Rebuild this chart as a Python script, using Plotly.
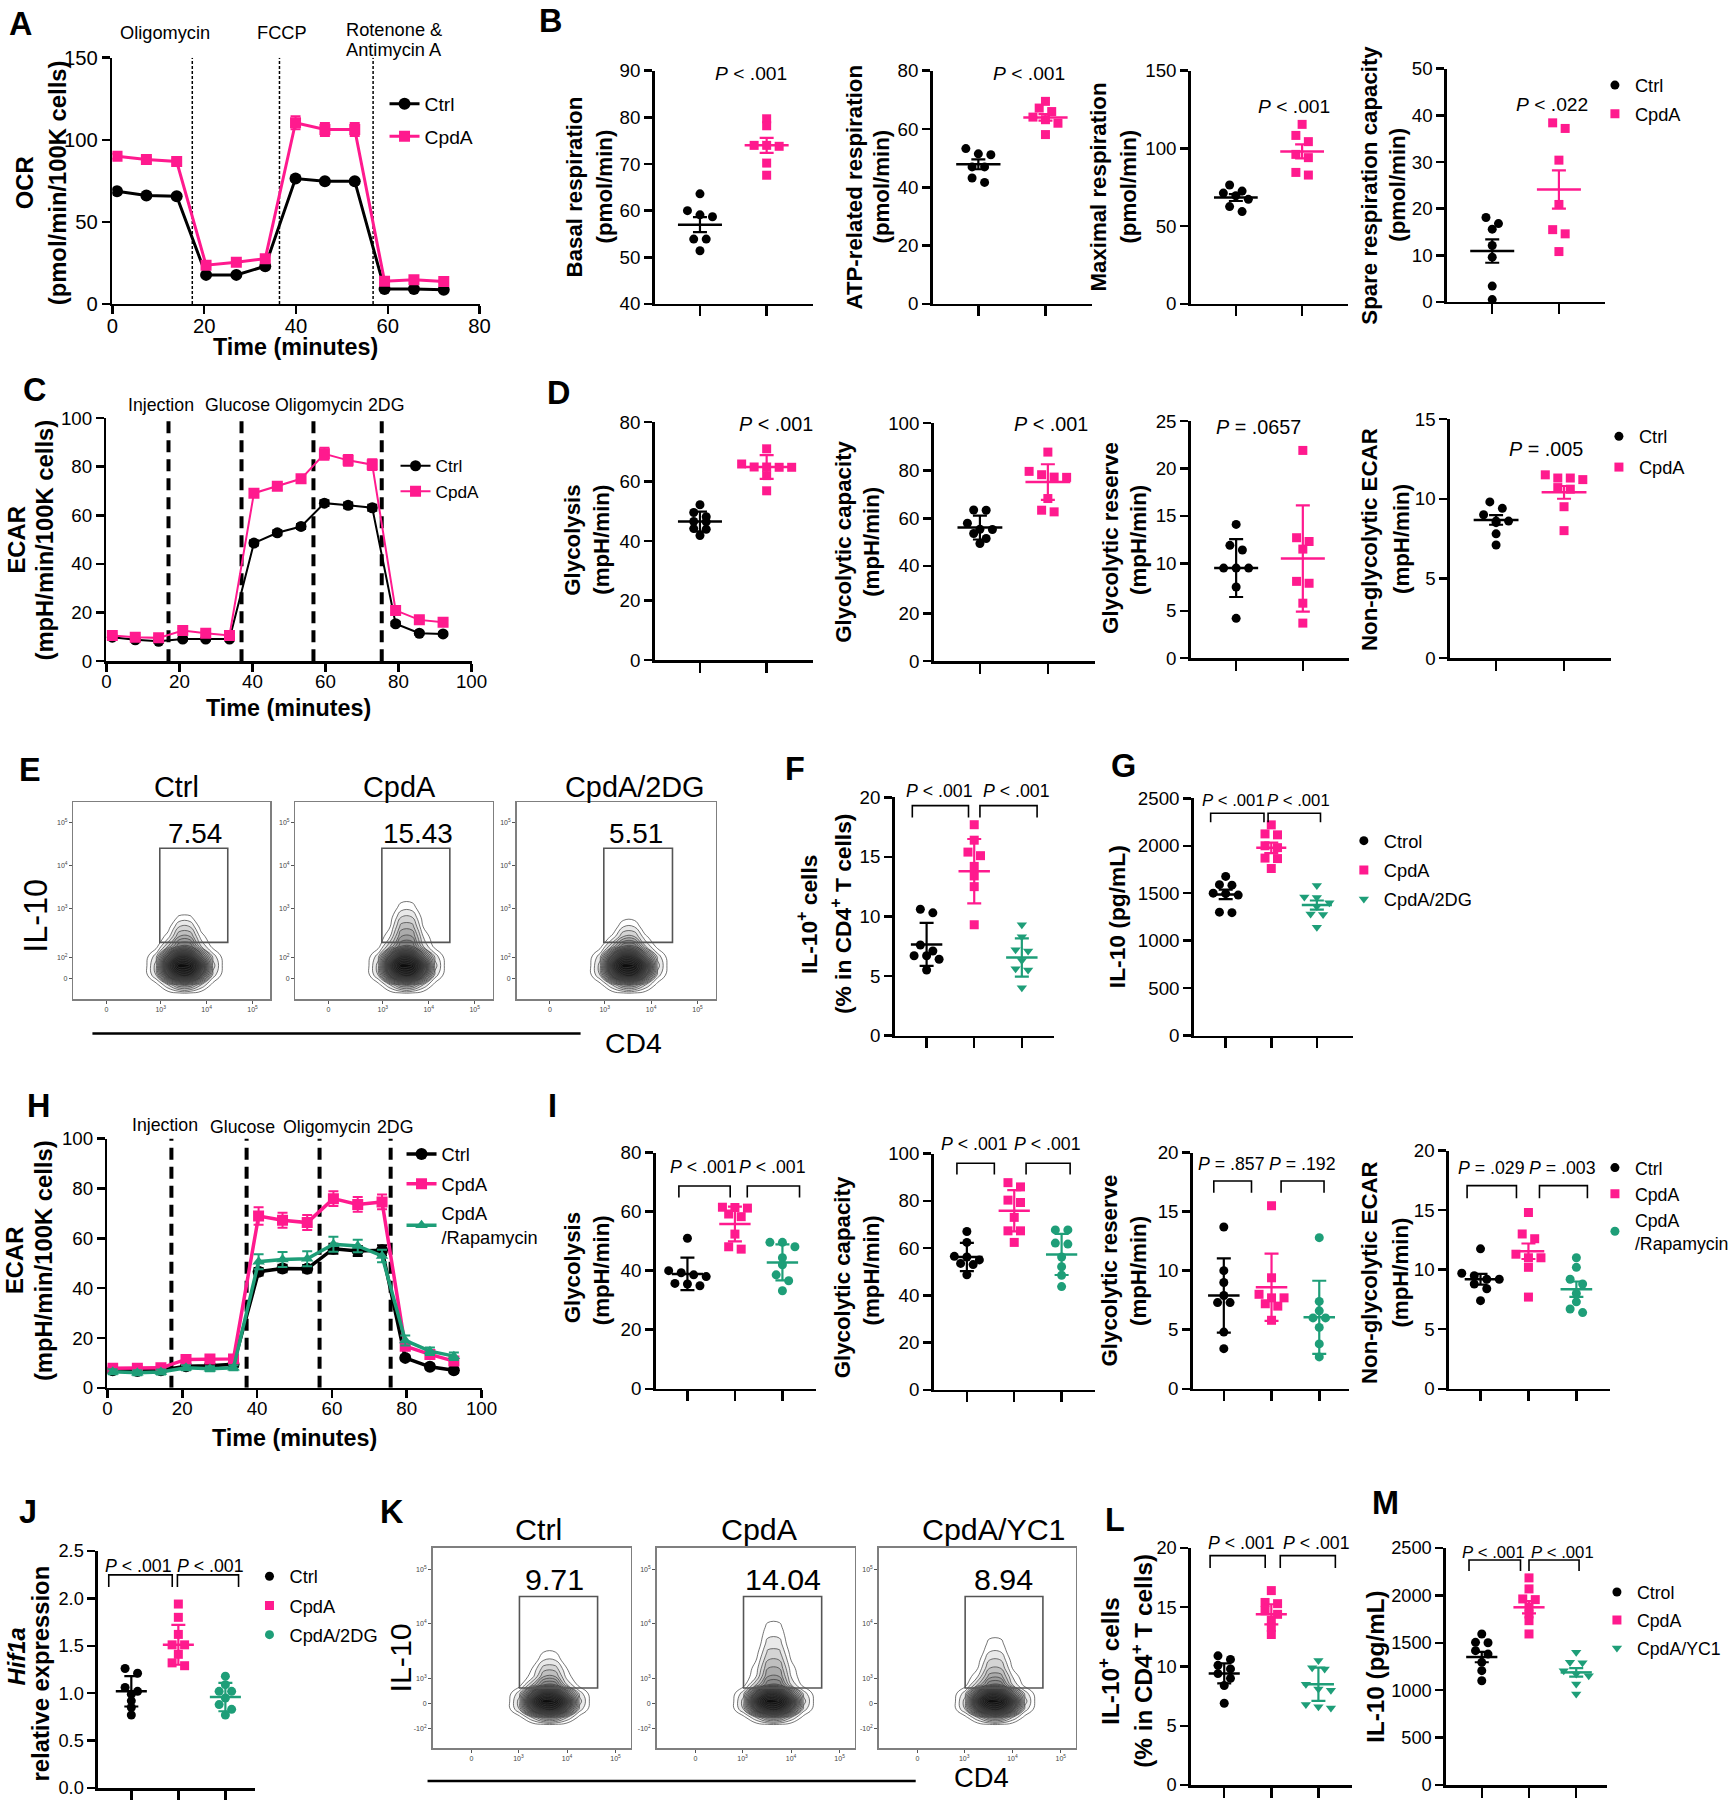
import plotly.graph_objects as go

W, H = 1736, 1800
FONT = "Liberation Sans, Arial, Helvetica, sans-serif"
PINK = "#FF1A8E"
GREEN = "#1E9E78"
BLACK = "#000000"

# ---------------- data: time courses ----------------
A_TIME = [1.0, 7.4, 14.0, 20.4, 27.0, 33.3, 39.9, 46.3, 52.8, 59.3, 65.7, 72.2]
A_CTRL = [68.7, 66.0, 65.6, 17.7, 17.7, 23.0, 76.4, 74.8, 74.8, 9.1, 9.1, 8.7]
A_CTRL_ERR = [1.0, 1.0, 1.0, 1.0, 1.0, 1.0, 1.2, 1.2, 1.2, 0.8, 0.8, 0.8]
A_CPDA = [90.0, 88.0, 86.8, 23.6, 25.4, 27.6, 110.4, 106.3, 106.3, 13.8, 14.8, 13.6]
A_CPDA_ERR = [1.5, 1.5, 1.5, 1.2, 1.2, 1.2, 4.0, 4.0, 4.0, 1.2, 1.2, 1.2]
A_INJ = [17.4, 36.4, 56.8]

C_TIME = [1.6, 7.9, 14.3, 20.9, 27.2, 33.7, 40.4, 46.8, 53.3, 59.7, 66.2, 72.8, 79.2, 85.7, 92.2]
C_CTRL = [9.9, 8.8, 8.2, 9.1, 9.1, 9.1, 48.6, 52.8, 55.4, 65.0, 64.1, 63.1, 15.4, 11.5, 11.2]
C_CTRL_ERR = [0.6, 0.6, 0.6, 0.6, 0.6, 0.6, 1.0, 1.0, 1.0, 1.2, 1.2, 1.2, 0.8, 0.6, 0.6]
C_CPDA = [10.6, 9.9, 9.6, 12.6, 11.5, 10.6, 69.1, 71.9, 75.0, 85.3, 82.6, 80.8, 20.9, 17.0, 16.0]
C_CPDA_ERR = [0.8, 0.8, 0.8, 0.8, 0.8, 0.8, 1.5, 1.5, 1.5, 2.5, 2.2, 2.2, 1.2, 1.0, 1.0]
C_INJ = [17.0, 37.0, 56.7, 75.4]

H_TIME = [1.4, 8.0, 14.3, 21.0, 27.4, 33.7, 40.4, 46.8, 53.4, 60.4, 66.9, 73.4, 79.6, 86.2, 92.6]
H_CTRL = [7.0, 6.7, 7.0, 8.6, 8.8, 9.4, 46.6, 47.9, 47.8, 55.8, 54.9, 55.2, 12.0, 8.4, 7.0]
H_CTRL_ERR = [1.0, 1.0, 1.0, 1.0, 1.0, 1.0, 1.5, 1.5, 1.5, 2.0, 2.0, 2.0, 1.0, 1.0, 1.0]
H_CPDA = [7.8, 7.8, 8.0, 11.4, 11.6, 11.6, 68.9, 67.2, 66.3, 75.9, 73.6, 74.6, 16.7, 13.4, 10.7]
H_CPDA_ERR = [1.0, 1.0, 1.0, 1.5, 1.5, 1.5, 3.5, 3.0, 3.0, 3.0, 3.0, 3.0, 1.5, 1.5, 1.5]
H_RAPA = [6.4, 6.0, 6.3, 8.0, 7.6, 8.0, 50.6, 51.5, 51.8, 57.6, 56.9, 52.9, 19.0, 14.7, 12.7]
H_RAPA_ERR = [1.0, 1.0, 1.0, 1.0, 1.0, 1.0, 3.0, 3.0, 3.0, 3.0, 2.5, 2.5, 2.0, 1.5, 1.5]
H_INJ = [17.1, 37.2, 56.7, 75.7]

# ---------------- data: dot plots ----------------
B1_CTRL = [63.6, 60.0, 59.1, 58.7, 53.9, 53.9, 51.4]
B1_CPDA = [79.7, 78.2, 74.0, 74.0, 73.8, 70.2, 67.6]
B1_MEAN = [57.0, 74.0]
B1_ERR = [1.6, 1.6]
B2_CTRL = [53.3, 51.5, 51.2, 47.0, 47.0, 43.2, 41.7]
B2_CPDA = [69.5, 67.2, 66.0, 64.1, 63.2, 62.0, 58.1]
B2_MEAN = [47.9, 64.0]
B2_ERR = [1.7, 1.1]
B3_CTRL = [76.5, 72.6, 71.3, 69.6, 67.3, 62.6, 59.4]
B3_CPDA = [115.5, 108.4, 104.4, 96.2, 94.1, 84.6, 82.9]
B3_MEAN = [68.4, 98.1]
B3_ERR = [2.2, 4.5]
B4_CTRL = [18.1, 16.8, 15.6, 12.1, 9.6, 3.4, 0.5]
B4_CPDA = [38.4, 37.2, 30.4, 20.9, 15.5, 14.6, 10.8]
B4_MEAN = [10.9, 24.1]
B4_ERR = [2.5, 4.1]

D1_CTRL = [52.2, 49.6, 48.2, 46.6, 46.5, 44.2, 44.0, 41.9]
D1_CPDA = [71.0, 65.9, 64.9, 64.9, 64.8, 64.8, 62.0, 56.9]
D1_MEAN = [46.6, 64.9]
D1_ERR = [3.3, 4.0]
D2_CTRL = [63.5, 63.4, 57.9, 55.4, 55.3, 53.6, 51.5, 49.4]
D2_CPDA = [87.8, 79.7, 78.3, 77.3, 77.2, 68.3, 63.4, 62.7]
D2_MEAN = [56.1, 75.2]
D2_ERR = [5.0, 7.5]
D3_CTRL = [14.1, 11.9, 11.4, 9.5, 9.5, 9.5, 7.5, 4.2]
D3_CPDA = [21.9, 12.7, 12.3, 11.5, 8.1, 7.9, 5.8, 3.7]
D3_MEAN = [9.5, 10.5]
D3_ERR = [3.05, 5.6]
D4_CTRL = [9.8, 9.4, 9.0, 8.6, 8.6, 8.5, 7.8, 7.1]
D4_CPDA = [11.5, 11.3, 11.3, 11.2, 10.7, 10.6, 9.5, 8.0]
D4_MEAN = [8.67, 10.4]
D4_ERR = [0.3, 0.4]

F_CTRL = [10.6, 10.3, 7.6, 7.1, 6.7, 6.7, 6.4, 5.5]
F_CPDA = [17.7, 16.4, 15.4, 15.1, 14.2, 13.4, 12.5, 9.3]
F_2DG = [9.3, 8.3, 7.2, 7.1, 6.3, 5.6, 5.5, 4.0]
F_MEAN = [7.65, 13.8, 6.55]
F_ERR = [1.8, 2.7, 1.6]

G_CTRL = [1677, 1590, 1585, 1500, 1495, 1480, 1300, 1295]
G_CPDA = [2220, 2125, 2115, 2000, 1980, 1870, 1865, 1760]
G_2DG = [1580, 1460, 1455, 1400, 1360, 1280, 1275, 1140]
G_MEAN = [1487, 1978, 1375]
G_ERR = [50, 55, 48]

I1_CTRL = [51.0, 40.0, 39.3, 38.6, 38.0, 35.7, 35.5, 34.9]
I1_CPDA = [61.5, 61.4, 61.2, 59.2, 58.3, 52.4, 48.1, 47.3]
I1_RAPA = [49.6, 49.6, 48.1, 44.4, 42.0, 38.6, 36.6, 33.2]
I1_MEAN = [38.9, 55.8, 42.8]
I1_ERR = [5.5, 5.9, 6.1]
I2_CTRL = [67.0, 62.4, 56.5, 56.2, 55.0, 53.5, 53.0, 48.7]
I2_CPDA = [87.7, 85.9, 80.3, 79.3, 73.0, 67.3, 67.3, 62.4]
I2_RAPA = [67.7, 67.7, 62.1, 61.7, 56.2, 52.1, 48.5, 43.7]
I2_MEAN = [56.2, 75.8, 57.3]
I2_ERR = [6.0, 8.7, 8.7]
I3_CTRL = [13.7, 10.0, 9.0, 7.9, 7.3, 7.3, 4.8, 3.4]
I3_CPDA = [15.5, 9.4, 8.0, 7.7, 7.7, 7.2, 7.0, 5.8]
I3_RAPA = [12.8, 7.4, 6.6, 6.0, 6.0, 5.2, 3.8, 2.7]
I3_MEAN = [7.9, 8.6, 6.05]
I3_ERR = [3.15, 2.85, 3.1]
I4_CTRL = [11.75, 9.7, 9.5, 9.2, 9.2, 8.8, 8.4, 7.4]
I4_CPDA = [14.8, 13.0, 12.6, 11.3, 11.0, 11.0, 10.2, 7.7]
I4_RAPA = [11.0, 10.2, 9.2, 8.8, 8.0, 7.3, 6.7, 6.4]
I4_MEAN = [9.2, 11.55, 8.36]
I4_ERR = [0.45, 0.65, 0.65]

J_CTRL = [1.26, 1.21, 1.06, 1.02, 0.99, 0.92, 0.85, 0.77]
J_CPDA = [1.94, 1.80, 1.62, 1.51, 1.51, 1.41, 1.32, 1.29]
J_2DG = [1.18, 1.09, 1.02, 1.02, 0.95, 0.88, 0.83, 0.77]
J_MEAN = [1.02, 1.51, 0.96]
J_ERR = [0.16, 0.21, 0.15]

L_CTRL = [10.9, 10.6, 10.1, 9.8, 9.4, 9.0, 8.4, 6.9]
L_CPDA = [16.4, 15.4, 15.3, 14.7, 14.4, 13.9, 13.3, 12.7]
L_YC1 = [10.5, 9.9, 9.8, 8.5, 8.1, 8.0, 6.8, 6.6, 6.5]
L_MEAN = [9.42, 14.4, 8.5]
L_ERR = [0.85, 0.85, 1.4]

M_CTRL = [1593, 1505, 1500, 1417, 1381, 1294, 1206, 1100]
M_CPDA = [2184, 2068, 1962, 1955, 1874, 1804, 1733, 1593]
M_YC1 = [1399, 1294, 1290, 1206, 1170, 1153, 1065, 959]
M_MEAN = [1350, 1874, 1188]
M_ERR = [55, 65, 45]

# ---------------- data: flow cytometry ----------------
E_GROUPS = ["Ctrl", "CpdA", "CpdA/2DG"]
E_PCT = ["7.54", "15.43", "5.51"]
K_GROUPS = ["Ctrl", "CpdA", "CpdA/YC1"]
K_PCT = ["9.71", "14.04", "8.94"]

# estimated contour-level map of the main population (rows: low -> high IL-10)
FLOW_DU = [-0.9, -0.62, -0.36, -0.12, 0.12, 0.36, 0.62, 0.9]
FLOW_DV = [-0.9, -0.6, -0.3, 0.0, 0.3, 0.6, 0.9, 1.2, 1.5, 1.8, 2.1, 2.4, 2.7, 3.0, 3.4]
FLOW_CORE = [
    [0, 0, 0, 0, 0, 0, 0, 0],
    [0, 0.5, 3, 6, 6, 3, 0.5, 0],
    [0, 3, 12, 17, 17, 11, 2.5, 0],
    [0, 3.5, 15, 22, 21, 14, 3.5, 0],
    [0, 2.5, 11, 16, 15, 9, 2.5, 0],
    [0, 0.5, 4, 8, 8, 3, 0.5, 0],
]
E_TAILS = [
    [[0, 0, 1.5, 5, 5, 1.5, 0, 0], [0, 0, 0.5, 3, 3, 0.5, 0, 0], [0, 0, 0, 1.2, 1.2, 0, 0, 0]],
    [[0, 0, 2, 6, 6, 2, 0, 0], [0, 0, 1, 4.5, 4.5, 1, 0, 0], [0, 0, 0.5, 3, 3, 0.5, 0, 0],
     [0, 0, 0, 1.5, 1.5, 0, 0, 0], [0, 0, 0, 0.5, 0.5, 0, 0, 0]],
    [[0, 0, 1.2, 4, 4, 1.2, 0, 0], [0, 0, 0, 2, 2, 0, 0, 0], [0, 0, 0, 0.5, 0.5, 0, 0, 0]],
]
K_TAILS = [
    [[0, 0, 1.5, 5, 5, 1.5, 0, 0], [0, 0, 1, 3.5, 3.5, 1, 0, 0], [0, 0, 0, 2, 2, 0, 0, 0],
     [0, 0, 0, 1, 1, 0, 0, 0]],
    [[0, 0, 2, 6, 6, 2, 0, 0], [0, 0, 1.5, 5, 5, 1.5, 0, 0], [0, 0, 1, 4, 4, 1, 0, 0],
     [0, 0, 0.5, 3.2, 3.2, 0.5, 0, 0], [0, 0, 0, 2.5, 2.5, 0, 0, 0], [0, 0, 0, 1.8, 1.8, 0, 0, 0],
     [0, 0, 0, 1.3, 1.3, 0, 0, 0], [0, 0, 0, 0.8, 0.8, 0, 0, 0]],
    [[0, 0, 2, 5.5, 5.5, 2, 0, 0], [0, 0, 1, 4, 4, 1, 0, 0], [0, 0, 0.5, 3, 3, 0.5, 0, 0],
     [0, 0, 0, 2, 2, 0, 0, 0], [0, 0, 0, 1.3, 1.3, 0, 0, 0], [0, 0, 0, 0.8, 0.8, 0, 0, 0]],
]

# ================= building =================
# page placement correction (observed offset/scale of the photographed page)
SC = 0.987
OX, OY = 5.6, 11.3
FK = 1 / SC


def X(px):
    return (px - OX) / SC


def Y(py):
    return (py - OY) / SC


fig = go.Figure()
LAYOUT = {}
ANN = []
SHAPES = []
_n = [0]


def axes(x0, x1, yt, yb, xr, yr, xkw=None, ykw=None, fs=18.5):
    _n[0] += 1
    k = _n[0]
    s = "" if k == 1 else str(k)

    def base():
        return dict(showline=True, linecolor=BLACK, linewidth=2.5, ticks="outside", ticklen=9,
                    tickwidth=2.5, tickcolor=BLACK, showgrid=False, zeroline=False, fixedrange=True,
                    tickfont=dict(family=FONT, size=fs * FK, color=BLACK))
    xa = base()
    xa.update(domain=[X(x0) / W, min(X(x1) / W, 1)], range=xr, anchor="y" + s)
    ya = base()
    ya.update(domain=[max(1 - Y(yb) / H, 0), 1 - Y(yt) / H], range=yr, anchor="x" + s)
    if xkw:
        xa.update(xkw)
    if ykw:
        ya.update(ykw)
    LAYOUT["xaxis" + s] = xa
    LAYOUT["yaxis" + s] = ya
    return "x" + s, "y" + s


def txt(x, y, s, size, angle=0, xanchor="center", color=BLACK):
    ANN.append(dict(x=X(x) / W, y=1 - Y(y) / H, xref="paper", yref="paper", text=s, showarrow=False,
                    textangle=angle, xanchor=xanchor, yanchor="middle",
                    font=dict(family=FONT, size=size * FK, color=color)))


def ptxt(x, y, s, size=17.5):
    txt(x, y, "<i>P</i> " + s, size)


def legend(name, x, ytop, gap, size=18):
    LAYOUT[name] = dict(x=X(x) / W, y=1 - Y(ytop) / H, xanchor="left", yanchor="top",
                        bgcolor="rgba(0,0,0,0)", borderwidth=0,
                        font=dict(family=FONT, size=size * FK, color=BLACK),
                        traceorder="grouped", tracegroupgap=gap, valign="middle")


def hline(x0, x1, y):
    SHAPES.append(dict(type="line", xref="paper", yref="paper", x0=X(x0) / W, x1=X(x1) / W,
                       y0=1 - Y(y) / H, y1=1 - Y(y) / H, line=dict(color=BLACK, width=2.5)))


def swarm(vals, c, ppu, upx, d_px=12.5, thr_px=6.5):
    order = sorted(range(len(vals)), key=lambda i: -vals[i])
    clusters = []
    for i in order:
        if clusters and (vals[clusters[-1][0]] - vals[i]) * ppu < thr_px:
            clusters[-1].append(i)
        else:
            clusters.append([i])
    xs = [float(c)] * len(vals)
    for cl in clusters:
        n = len(cl)
        for k, i in enumerate(cl):
            xs[i] = c + (k - (n - 1) / 2) * d_px * upx
    return xs


def timecourse(box, xr, yr, xd, yd, times, series, inj, inj_line, leg, fs=18.5):
    xa, ya = axes(*box, xr, yr, xkw=dict(dtick=xd, tick0=0, ticklen=8, ticklabelstandoff=-6),
                  ykw=dict(dtick=yd, tick0=0, ticklen=8), fs=fs)
    for x in inj:
        SHAPES.append(dict(type="line", xref=xa, yref=ya, x0=x, x1=x, y0=yr[0], y1=yr[1],
                           line=inj_line, layer="below"))
    for i, (name, vals, errs, color, sym, ms, lw) in enumerate(series):
        fig.add_trace(go.Scatter(
            x=times, y=vals, mode="lines+markers", name=name, xaxis=xa, yaxis=ya,
            line=dict(color=color, width=lw), marker=dict(symbol=sym, size=ms, color=color),
            error_y=dict(type="data", array=errs, color=color, thickness=2, width=5),
            legend=leg, legendgroup=leg + str(i), showlegend=True, hoverinfo="skip"))
    return xa, ya


def dotpanel(box, xr, yr, yd, groups, means, errs, colors, symbols, leg=None, names=None,
             ms=9, ykw_extra=None, brackets=None, btop=None, bbot=None, fs=18.5):
    x0, x1, yt, yb = box
    ncat = len(groups)
    ykw = dict(dtick=yd, tick0=yr[0], ticklen=8)
    if ykw_extra:
        ykw.update(ykw_extra)
    xa, ya = axes(x0, x1, yt, yb, xr, yr,
                  xkw=dict(tickvals=list(range(ncat)), showticklabels=False, ticklen=10), ykw=ykw, fs=fs)
    ppu = (yb - yt) / (yr[1] - yr[0])
    upx = (xr[1] - xr[0]) / (x1 - x0)
    for c in range(ncat):
        vals = groups[c]
        xs = swarm(vals, c, ppu, upx)
        fig.add_trace(go.Scatter(
            x=xs, y=vals, mode="markers", marker=dict(symbol=symbols[c], size=ms, color=colors[c]),
            xaxis=xa, yaxis=ya, name=names[c] if names else "", showlegend=leg is not None,
            legend=leg or "legend", legendgroup=(leg or "none") + str(c), hoverinfo="skip",
            cliponaxis=False))
        fig.add_trace(go.Scatter(
            x=[c - 0.33, c + 0.33], y=[means[c]] * 2, mode="lines",
            line=dict(color=colors[c], width=2.5), xaxis=xa, yaxis=ya, showlegend=False,
            hoverinfo="skip"))
        fig.add_trace(go.Scatter(
            x=[c], y=[means[c]], mode="markers", marker=dict(size=1, color="rgba(0,0,0,0)"),
            error_y=dict(type="data", array=[errs[c]], color=colors[c], thickness=2.2, width=7),
            xaxis=xa, yaxis=ya, showlegend=False, hoverinfo="skip"))
    if brackets:
        for (a, b) in brackets:
            fig.add_trace(go.Scatter(
                x=[a, a, b, b], y=[bbot, btop, btop, bbot], mode="lines",
                line=dict(color=BLACK, width=1.6), xaxis=xa, yaxis=ya, showlegend=False,
                hoverinfo="skip"))
    return xa, ya


def flowpanel(box, ur, vr, u0, v0, vs, tail, gate, xtv, xtt, ytv, ytt):
    tk = dict(ticklen=3, tickwidth=1, linecolor="#7f7f7f", linewidth=1.5, mirror=True,
              tickcolor="#555555", tickfont=dict(family=FONT, size=7, color="#444444"))
    xkw = dict(tk, tickvals=xtv, ticktext=xtt)
    ykw = dict(tk, tickvals=ytv, ticktext=ytt)
    xa, ya = axes(*box, ur, vr, xkw=xkw, ykw=ykw)
    z = [list(r) for r in FLOW_CORE] + [list(r) for r in tail]
    while len(z) < len(FLOW_DV):
        z.append([0] * len(FLOW_DU))
    U = [u0 + du for du in FLOW_DU]
    V = [v0 + dv * vs for dv in FLOW_DV]
    fig.add_trace(go.Contour(
        x=U, y=V, z=z, xaxis=xa, yaxis=ya, showscale=False,
        contours=dict(start=1, end=22, size=1.0, coloring="fill"),
        line=dict(width=0.7, smoothing=1.3, color="#3a3a3a"), zmin=0, zmax=22,
        colorscale=[[0, "rgba(255,255,255,0)"], [0.045, "rgba(255,255,255,0)"],
                    [0.05, "#f2f2f2"], [0.2, "#b0b0b0"], [0.45, "#5a5a5a"],
                    [0.75, "#262626"], [1, "#0a0a0a"]],
        hoverinfo="skip", showlegend=False))
    SHAPES.append(dict(type="rect", xref=xa, yref=ya, x0=gate[0], x1=gate[1], y0=gate[2],
                       y1=gate[3], line=dict(color="#555555", width=1.6)))
    return xa, ya


TWO = [-0.68, 1.69]
SUP = "<sup>%s</sup>"
YT1 = 23.5   # big y-titles (time courses)
YT2 = 22     # dot-plot y-titles

# ---------------- Panel A ----------------
timecourse((112, 479, 58, 304), [0, 80], [0, 150], 20, 50, A_TIME,
           [("Ctrl", A_CTRL, A_CTRL_ERR, BLACK, "circle", 12, 3),
            ("CpdA", A_CPDA, A_CPDA_ERR, PINK, "square", 11, 3)],
           A_INJ, dict(color=BLACK, width=1.5, dash="3px,2px"), "legend", fs=20)
legend("legend", 384, 85, 4.5, size=19)
txt(164.5, 33, "Oligomycin", 18)
txt(282, 33, "FCCP", 18)
txt(393, 30, "Rotenone &", 18)
txt(393, 50, "Antimycin A", 18)
txt(295, 347, "<b>Time (minutes)</b>", 23)
txt(24, 183, "<b>OCR</b>", YT1, angle=-90)
txt(57, 183, "<b>(pmol/min/100K cells)</b>", YT1, angle=-90)

# ---------------- Panel B ----------------
dotpanel((654, 812, 71, 304), TWO, [40, 90], 10, [B1_CTRL, B1_CPDA], B1_MEAN, B1_ERR,
         [BLACK, PINK], ["circle", "square"])
dotpanel((932, 1091, 71, 304), TWO, [0, 80], 20, [B2_CTRL, B2_CPDA], B2_MEAN, B2_ERR,
         [BLACK, PINK], ["circle", "square"])
dotpanel((1190, 1347, 71, 304), TWO, [0, 150], 50, [B3_CTRL, B3_CPDA], B3_MEAN, B3_ERR,
         [BLACK, PINK], ["circle", "square"])
dotpanel((1446, 1604, 69, 302), TWO, [0, 50], 10, [B4_CTRL, B4_CPDA], B4_MEAN, B4_ERR,
         [BLACK, PINK], ["circle", "square"], leg="legend2", names=["Ctrl", "CpdA"])
legend("legend2", 1594, 67, 2)
ptxt(750, 74, "< .001", 19)
ptxt(1028, 74, "< .001", 19)
ptxt(1293, 107, "< .001", 19)
ptxt(1551, 105, "< .022", 19)
txt(574, 187, "<b>Basal respiration</b>", YT2, angle=-90)
txt(604, 187, "<b>(pmol/min)</b>", YT2, angle=-90)
txt(854, 187, "<b>ATP-related respiration</b>", YT2, angle=-90)
txt(881, 187, "<b>(pmol/min)</b>", YT2, angle=-90)
txt(1098, 187, "<b>Maximal respiration</b>", YT2, angle=-90)
txt(1128, 187, "<b>(pmol/min)</b>", YT2, angle=-90)
txt(1369, 185, "<b>Spare respiration capacity</b>", YT2, angle=-90)
txt(1397, 185, "<b>(pmol/min)</b>", YT2, angle=-90)

# ---------------- Panel C ----------------
timecourse((106, 471, 418, 661), [0, 100], [0, 100], 20, 20, C_TIME,
           [("Ctrl", C_CTRL, C_CTRL_ERR, BLACK, "circle", 11, 2),
            ("CpdA", C_CPDA, C_CPDA_ERR, PINK, "square", 11, 2)],
           C_INJ, dict(color=BLACK, width=4, dash="12px,7px"), "legend3")
legend("legend3", 395, 448, 0, size=17)
txt(161, 405, "Injection", 17.5)
txt(237.5, 405, "Glucose", 17.5)
txt(318, 405, "Oligomycin", 17.5)
txt(385, 405, "2DG", 17.5)
txt(288, 708, "<b>Time (minutes)</b>", 23)
txt(16, 540, "<b>ECAR</b>", YT1, angle=-90)
txt(44, 540, "<b>(mpH/min/100K cells)</b>", YT1, angle=-90)

# ---------------- Panel D ----------------
dotpanel((654, 812, 422, 660), TWO, [0, 80], 20, [D1_CTRL, D1_CPDA], D1_MEAN, D1_ERR,
         [BLACK, PINK], ["circle", "square"])
dotpanel((933, 1094, 423, 661), TWO, [0, 100], 20, [D2_CTRL, D2_CPDA], D2_MEAN, D2_ERR,
         [BLACK, PINK], ["circle", "square"])
dotpanel((1190, 1348, 421, 658), TWO, [0, 25], 5, [D3_CTRL, D3_CPDA], D3_MEAN, D3_ERR,
         [BLACK, PINK], ["circle", "square"])
dotpanel((1449, 1610, 419, 658), TWO, [0, 15], 5, [D4_CTRL, D4_CPDA], D4_MEAN, D4_ERR,
         [BLACK, PINK], ["circle", "square"], leg="legend4", names=["Ctrl", "CpdA"])
legend("legend4", 1598, 418, 4)
ptxt(775, 424, "< .001", 19.5)
ptxt(1050, 424, "< .001", 19.5)
ptxt(1258, 427, "= .0657", 19.5)
ptxt(1545, 449, "= .005", 19.5)
txt(572, 540, "<b>Glycolysis</b>", YT2, angle=-90)
txt(601, 540, "<b>(mpH/min)</b>", YT2, angle=-90)
txt(842, 542, "<b>Glycolytic capacity</b>", YT2, angle=-90)
txt(870, 542, "<b>(mpH/min)</b>", YT2, angle=-90)
txt(1109, 538, "<b>Glycolytic reserve</b>", YT2, angle=-90)
txt(1137, 540, "<b>(mpH/min)</b>", YT2, angle=-90)
txt(1368, 539, "<b>Non-glycolytic ECAR</b>", YT2, angle=-90)
txt(1400, 539, "<b>(mpH/min)</b>", YT2, angle=-90)

# ---------------- Panel E (flow) ----------------
E_BOXES = [(73, 270), (295, 492), (516, 715)]
E_TITLE_X = [176, 398.5, 634]
E_PCT_X = [195, 417, 635]
for i in range(3):
    x0, x1 = E_BOXES[i]
    flowpanel((x0, x1, 802, 999), [1.10, 5.39], [0.88, 5.47], 3.52, 1.67, 0.75, E_TAILS[i],
              (2.98, 4.46, 2.21, 4.40), [1.82, 3, 4, 5], ["0", "10" + SUP % 3, "10" + SUP % 4, "10" + SUP % 5],
              [1.37, 1.86, 3, 4, 5], ["0", "10" + SUP % 2, "10" + SUP % 3, "10" + SUP % 4, "10" + SUP % 5])
    txt(E_TITLE_X[i], 787, E_GROUPS[i], 28.5)
    txt(E_PCT_X[i], 833, E_PCT[i], 27.5)
txt(36, 915, "IL-10", 32, angle=-90)
txt(633, 1042, "CD4", 28)
hline(92, 580, 1033)

# ---------------- Panel F ----------------
THREE_SYM = ["circle", "square", "triangle-down"]
COL3 = [BLACK, PINK, GREEN]
dotpanel((894, 1053, 797, 1035), [-0.67, 2.67], [0, 20], 5, [F_CTRL, F_CPDA, F_2DG], F_MEAN, F_ERR,
         COL3, THREE_SYM, brackets=[(-0.3, 0.88), (1.12, 2.32)], btop=19.3, bbot=18.3)
ptxt(939, 791, "< .001")
ptxt(1016, 791, "< .001")
txt(807, 914, "<b>IL-10" + SUP % "+" + " cells</b>", 22.5, angle=-90)
txt(841, 914, "<b>(% in CD4" + SUP % "+" + " T cells)</b>", 22.5, angle=-90)

# ---------------- Panel G ----------------
dotpanel((1193, 1352, 798, 1035), [-0.7, 2.79], [0, 2500], 500, [G_CTRL, G_CPDA, G_2DG], G_MEAN,
         G_ERR, COL3, THREE_SYM, leg="legend5", names=["Ctrol", "CpdA", "CpdA/2DG"],
         brackets=[(-0.33, 0.84), (0.93, 2.08)], btop=2342, bbot=2247)
legend("legend5", 1343, 822, 2.5)
ptxt(1233, 800, "< .001", 16.5)
ptxt(1298, 800, "< .001", 16.5)
txt(1117, 916, "<b>IL-10 (pg/mL)</b>", 22.5, angle=-90)

# ---------------- Panel H ----------------
timecourse((107, 481, 1138, 1387), [0, 100], [0, 100], 20, 20, H_TIME,
           [("Ctrl", H_CTRL, H_CTRL_ERR, BLACK, "circle", 12, 3.5),
            ("CpdA", H_CPDA, H_CPDA_ERR, PINK, "square", 11, 3.5),
            ("CpdA<br>/Rapamycin", H_RAPA, H_RAPA_ERR, GREEN, "triangle-up", 11, 3.5)],
           H_INJ, dict(color=BLACK, width=4, dash="12px,7px"), "legend6")
legend("legend6", 401, 1135, 3)
txt(165, 1124, "Injection", 17.5)
txt(242, 1126, "Glucose", 17.5)
txt(326, 1126, "Oligomycin", 17.5)
txt(394, 1126, "2DG", 17.5)
txt(294, 1437, "<b>Time (minutes)</b>", 23)
txt(14, 1260, "<b>ECAR</b>", YT1, angle=-90)
txt(43, 1260, "<b>(mpH/min/100K cells)</b>", YT1, angle=-90)

# ---------------- Panel I ----------------
I_SYM = ["circle", "square", "circle"]
dotpanel((655, 815, 1152, 1388), [-0.67, 2.7], [0, 80], 20, [I1_CTRL, I1_CPDA, I1_RAPA], I1_MEAN,
         I1_ERR, COL3, I_SYM, brackets=[(-0.18, 0.9), (1.26, 2.36)], btop=68.7, bbot=64.8)
dotpanel((933, 1094, 1153, 1389), [-0.7, 2.7], [0, 100], 20, [I2_CTRL, I2_CPDA, I2_RAPA], I2_MEAN,
         I2_ERR, COL3, I_SYM, brackets=[(-0.21, 0.58), (1.25, 2.18)], btop=95.9, bbot=91.2)
dotpanel((1192, 1348, 1152, 1388), [-0.65, 2.62], [0, 20], 5, [I3_CTRL, I3_CPDA, I3_RAPA], I3_MEAN,
         I3_ERR, COL3, I_SYM, brackets=[(-0.21, 0.58), (1.2, 2.1)], btop=17.6, bbot=16.6)
dotpanel((1448, 1609, 1150, 1388), [-0.66, 2.7], [0, 20], 5, [I4_CTRL, I4_CPDA, I4_RAPA], I4_MEAN,
         I4_ERR, COL3, I_SYM, leg="legend7", names=["Ctrl", "CpdA", "CpdA<br>/Rapamycin"],
         brackets=[(-0.28, 0.75), (1.23, 2.23)], btop=17.06, bbot=16.0)
legend("legend7", 1594, 1149, 0, size=17.5)
ptxt(702.6, 1166, "< .001")
ptxt(772, 1166, "< .001")
ptxt(974, 1143, "< .001")
ptxt(1047, 1143, "< .001")
ptxt(1231, 1163, "= .857")
ptxt(1301.5, 1163, "= .192")
ptxt(1490.5, 1167, "= .029")
ptxt(1562, 1167, "= .003")
txt(572, 1267, "<b>Glycolysis</b>", YT2, angle=-90)
txt(601, 1270, "<b>(mpH/min)</b>", YT2, angle=-90)
txt(842, 1277, "<b>Glycolytic capacity</b>", YT2, angle=-90)
txt(871, 1270, "<b>(mpH/min)</b>", YT2, angle=-90)
txt(1109, 1270, "<b>Glycolytic reserve</b>", YT2, angle=-90)
txt(1137.5, 1270, "<b>(mpH/min)</b>", YT2, angle=-90)
txt(1368.5, 1272, "<b>Non-glycolytic ECAR</b>", YT2, angle=-90)
txt(1400, 1272, "<b>(mpH/min)</b>", YT2, angle=-90)

# ---------------- Panel J ----------------
dotpanel((97.5, 255, 1550, 1787), [-0.71, 2.64], [0, 2.5], 0.5, [J_CTRL, J_CPDA, J_2DG], J_MEAN,
         J_ERR, COL3, I_SYM, leg="legend8", names=["Ctrl", "CpdA", "CpdA/2DG"],
         ykw_extra=dict(tickformat=".1f"), brackets=[(-0.48, 0.87), (0.98, 2.28)], btop=2.247,
         bbot=2.12, fs=18)
legend("legend8", 249, 1557, 2.5)
ptxt(138, 1565, "< .001")
ptxt(210, 1565, "< .001")
txt(17, 1655, "<b><i>Hif1a</i></b>", 23.5, angle=-90)
txt(40, 1672, "<b>relative expression</b>", 23.5, angle=-90)

# ---------------- Panel K (flow) ----------------
K_BOXES = [(432, 630), (656, 854), (878, 1075)]
K_TITLE_X = [538, 759, 993]
K_PCT_X = [554, 782, 1003]
for i in range(3):
    x0, x1 = K_BOXES[i]
    flowpanel((x0, x1, 1547, 1747), [1.23, 5.31], [1.72, 5.39], 3.64, 2.58, 0.5, K_TAILS[i],
              (3.02, 4.63, 2.82, 4.50), [2.03, 3, 4, 5], ["0", "10" + SUP % 3, "10" + SUP % 4, "10" + SUP % 5],
              [2.08, 2.54, 3, 4, 5], ["-10" + SUP % 2, "0", "10" + SUP % 3, "10" + SUP % 4, "10" + SUP % 5])
    txt(K_TITLE_X[i], 1528, K_GROUPS[i], 30)
    txt(K_PCT_X[i], 1578, K_PCT[i], 30)
txt(399, 1657, "IL-10", 30, angle=-90)
txt(981, 1776, "CD4", 27)
hline(427, 915, 1780)

# ---------------- Panel L ----------------
dotpanel((1190, 1351, 1547, 1784), [-0.71, 2.71], [0, 20], 5, [L_CTRL, L_CPDA, L_YC1], L_MEAN,
         L_ERR, COL3, THREE_SYM, brackets=[(-0.3, 0.87), (1.19, 2.36)], btop=19.35, bbot=18.3, fs=18)
ptxt(1241, 1542, "< .001")
ptxt(1316, 1542, "< .001")
txt(1108, 1660, "<b>IL-10" + SUP % "+" + " cells</b>", 24, angle=-90)
txt(1141, 1660, "<b>(% in CD4" + SUP % "+" + " T cells)</b>", 24, angle=-90)

# ---------------- Panel M ----------------
dotpanel((1445, 1606, 1547, 1784), [-0.76, 2.65], [0, 2500], 500, [M_CTRL, M_CPDA, M_YC1], M_MEAN,
         M_ERR, COL3, THREE_SYM, leg="legend9", names=["Ctrol", "CpdA", "CpdA/YC1"],
         brackets=[(-0.27, 0.82), (1.0, 2.06)], btop=2373, bbot=2257, fs=18)
legend("legend9", 1596, 1573, 2, size=17.5)
ptxt(1493, 1552, "< .001", 16.5)
ptxt(1562, 1552, "< .001", 16.5)
txt(1374, 1665, "<b>IL-10 (pg/mL)</b>", 24, angle=-90)

# ---------------- panel letters ----------------
LETTERS = [("A", 20, 24), ("B", 550, 21), ("C", 34, 390), ("D", 558, 393), ("E", 30, 770),
           ("F", 794, 769), ("G", 1123, 766), ("H", 38, 1105), ("I", 552, 1105), ("J", 28, 1511),
           ("K", 391, 1511), ("L", 1114, 1519), ("M", 1385, 1502)]
for s, x, y in LETTERS:
    txt(x, y, "<b>" + s + "</b>", 32)

fig.update_layout(
    width=W, height=H, margin=dict(l=0, r=0, t=0, b=0, pad=0),
    paper_bgcolor="white", plot_bgcolor="rgba(0,0,0,0)",
    font=dict(family=FONT, color=BLACK), showlegend=True,
    annotations=ANN, shapes=SHAPES, **LAYOUT)

fig.write_html(
    "out.html",
    config={"displayModeBar": False, "staticPlot": True},
    post_script="document.body.style.margin='0px';document.body.style.padding='0px';"
                "document.documentElement.style.overflow='hidden';document.body.style.overflow='hidden';")
